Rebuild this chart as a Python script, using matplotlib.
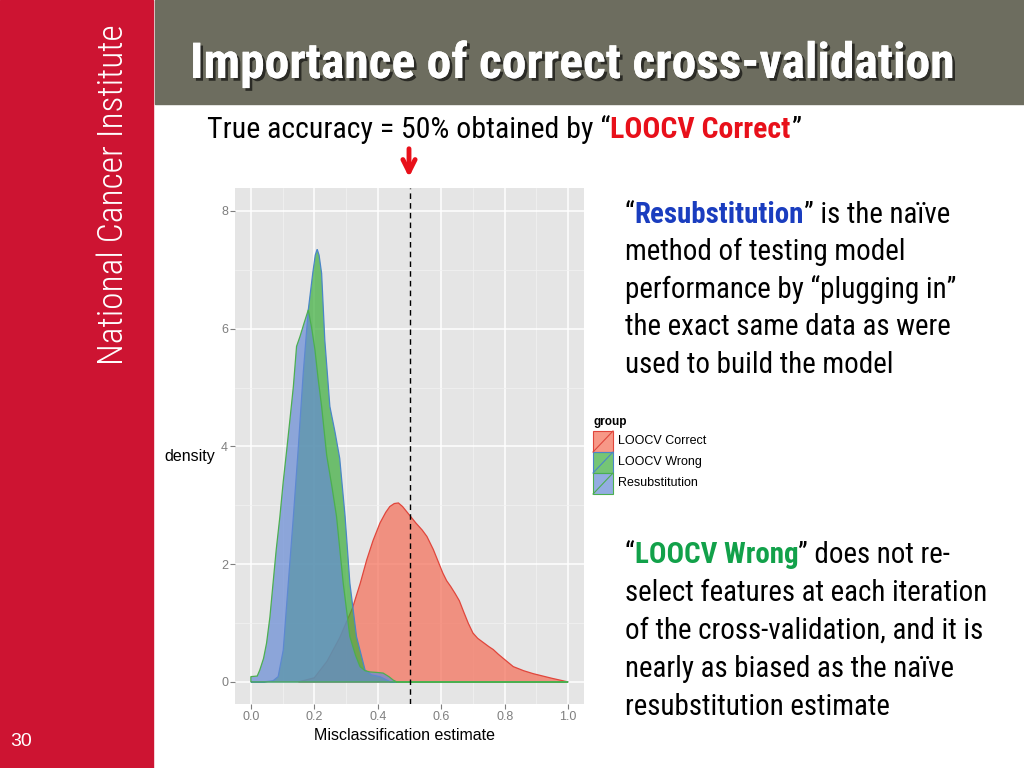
import numpy as np
import matplotlib.pyplot as plt
from matplotlib.patches import Rectangle
from matplotlib.lines import Line2D
from matplotlib.colors import to_rgba
from matplotlib import font_manager
import matplotlib.patheffects as pe

W, H = 1024, 768

# density curves (x = misclassification estimate)
correct_x = [0.15, 0.20, 0.24, 0.28, 0.32, 0.345, 0.365, 0.385, 0.407, 0.425, 0.438, 0.452, 0.465, 0.478,
             0.49, 0.505, 0.52, 0.54, 0.555, 0.575, 0.59, 0.605, 0.617, 0.63, 0.644, 0.657, 0.67, 0.685,
             0.70, 0.715, 0.73, 0.75, 0.764, 0.78, 0.80, 0.827, 0.86, 0.89, 0.92, 0.95, 1.0]
correct_y = [0.0, 0.07, 0.35, 0.75, 1.25, 1.68, 2.07, 2.40, 2.70, 2.88, 2.98, 3.03, 3.04, 2.98,
             2.90, 2.80, 2.70, 2.58, 2.47, 2.25, 2.05, 1.85, 1.72, 1.62, 1.50, 1.38, 1.20, 1.00,
             0.83, 0.74, 0.68, 0.60, 0.55, 0.47, 0.38, 0.26, 0.19, 0.14, 0.10, 0.06, 0.0]

wrong_x = [0.0, 0.04, 0.07, 0.086, 0.102, 0.118, 0.134, 0.149, 0.165, 0.181, 0.195, 0.203, 0.209, 0.215,
           0.223, 0.233, 0.249, 0.265, 0.28, 0.297, 0.312, 0.333, 0.36, 0.38, 0.407, 0.44, 1.0]
wrong_y = [0.0, 0.0, 0.02, 0.09, 0.54, 1.68, 2.81, 3.94, 5.24, 6.32, 6.94, 7.25, 7.35, 7.25,
           6.94, 5.81, 4.68, 4.25, 3.80, 2.81, 1.68, 0.77, 0.20, 0.12, 0.09, 0.0, 0.0]

resub_x = [0.0, 0.0, 0.02, 0.028, 0.04, 0.0495, 0.06, 0.070, 0.08, 0.0915, 0.102, 0.113, 0.124, 0.134,
           0.144, 0.155, 0.168, 0.181, 0.192, 0.202, 0.212, 0.223, 0.239, 0.256, 0.270, 0.291, 0.312,
           0.330, 0.344, 0.36, 0.375, 0.40, 0.417, 0.435, 0.449, 0.46, 1.0]
resub_y = [0.0, 0.09, 0.10, 0.20, 0.40, 0.66, 1.10, 1.68, 2.25, 2.81, 3.40, 3.94, 4.50, 5.02,
           5.70, 5.87, 6.10, 6.32, 6.00, 5.64, 5.15, 4.68, 3.85, 3.30, 2.81, 1.68, 0.77,
           0.45, 0.26, 0.19, 0.17, 0.16, 0.15, 0.09, 0.03, 0.0, 0.0]

groups = ['LOOCV Correct', 'LOOCV Wrong', 'Resubstitution']
fill_cols = ['#F56C55', '#3AAD3A', '#668AD5']
edge_cols = ['#E0463C', '#4A86C8', '#4CAF50']
curves = [(correct_x, correct_y), (wrong_x, wrong_y), (resub_x, resub_y)]

xticks = [0.0, 0.2, 0.4, 0.6, 0.8, 1.0]
yticks = [0, 2, 4, 6, 8]

title = 'Importance of correct cross-validation'
sidebar = 'National Cancer Institute'
subtitle = [('True accuracy = 50% obtained by “', 'black', 'normal'),
            ('LOOCV Correct', '#E8101A', 'bold'),
            ('”', 'black', 'normal')]
block1 = [[('“', 'black', 'normal'), ('Resubstitution', '#1A3DBF', 'bold'), ('” is the naïve', 'black', 'normal')],
          [('method of testing model', 'black', 'normal')],
          [('performance by “plugging in”', 'black', 'normal')],
          [('the exact same data as were', 'black', 'normal')],
          [('used to build the model', 'black', 'normal')]]
block2 = [[('“', 'black', 'normal'), ('LOOCV Wrong', '#12A14A', 'bold'), ('” does not re-', 'black', 'normal')],
          [('select features at each iteration', 'black', 'normal')],
          [('of the cross-validation, and it is', 'black', 'normal')],
          [('nearly as biased as the naïve', 'black', 'normal')],
          [('resubstitution estimate', 'black', 'normal')]]

avail = {f.name for f in font_manager.fontManager.ttflist}
narrow = next((n for n in ['Liberation Sans Narrow', 'Arial Narrow', 'Roboto Condensed',
                           'Open Sans Condensed'] if n in avail), 'Liberation Sans')
NARROW = [narrow, 'DejaVu Sans']
ARIAL = ['Liberation Sans', 'DejaVu Sans']


def fx(x):
    return x / W


def fy(y):
    return 1 - y / H


fig = plt.figure(figsize=(10.24, 7.68), dpi=100)
fig.patch.set_facecolor('white')
renderer = fig.canvas.get_renderer()


def width_of(pieces, size):
    w = 0
    for txt, col, wt in pieces:
        t = fig.text(0, 0, txt, fontsize=size, fontweight=wt, family=NARROW)
        w += t.get_window_extent(renderer).width
        t.remove()
    return w


def fit(pieces, target, base=20):
    return base * target / width_of(pieces, base)


def draw_line(x, y, pieces, size):
    for txt, col, wt in pieces:
        t = fig.text(fx(x), fy(y), txt, color=col, fontsize=size, fontweight=wt, family=NARROW,
                     va='baseline', ha='left')
        x += t.get_window_extent(renderer).width


# slide decoration
fig.add_artist(Rectangle((0, 0), fx(153), 1, transform=fig.transFigure, color='#CD1432', zorder=0))
fig.add_artist(Rectangle((fx(155), fy(104)), 1 - fx(155), 104 / H, transform=fig.transFigure,
                         color='#6D6D5F', zorder=0))
side_size = fit([(sidebar, 'white', 'light')], 340)
fig.text(fx(113), fy(195), sidebar, rotation=90, color='white', fontsize=side_size, fontweight='light',
         family=NARROW, ha='center', va='center')
fig.text(fx(10), fy(742), '30', color='white', fontsize=14, family=ARIAL, va='center')
title_size = fit([(title, 'white', 'bold')], 763)
fig.text(fx(190), fy(78), title, color='white', fontsize=title_size, fontweight='bold', family=NARROW,
         va='baseline', path_effects=[pe.withSimplePatchShadow(offset=(2, -2), shadow_rgbFace='black', alpha=0.6),
                                      pe.Normal()])

draw_line(207, 138, subtitle, fit(subtitle, 593))
body_size = fit(block1[3], 326)
for i, ln in enumerate(block1):
    draw_line(625, 223 + i * 37.5, ln, body_size)
for i, ln in enumerate(block2):
    draw_line(625, 563 + i * 38, ln, body_size)

# density plot
ax = fig.add_axes([fx(235), fy(704), fx(584) - fx(235), (704 - 188) / H])
ax.set_facecolor('#E5E5E5')
for s in ax.spines.values():
    s.set_visible(False)
ax.set_xlim(-0.05, 1.05)
ax.set_ylim(-0.375, 8.39)
ax.set_xticks(xticks)
ax.set_xticklabels(['%.1f' % v for v in xticks])
ax.set_yticks(yticks)
ax.set_xticks([0.1, 0.3, 0.5, 0.7, 0.9], minor=True)
ax.set_yticks([1, 3, 5, 7], minor=True)
ax.grid(which='major', color='white', lw=1.1)
ax.grid(which='minor', color='#F2F2F2', lw=0.5)
ax.set_axisbelow(True)
ax.tick_params(which='minor', length=0)
ax.tick_params(which='major', length=3.5, width=0.8, color='#7F7F7F', labelcolor='#7F7F7F',
               labelsize=9, pad=1.5)
for lab in ax.get_xticklabels() + ax.get_yticklabels():
    lab.set_family(ARIAL)

for (xs, ys), fc, ec in zip(curves, fill_cols, edge_cols):
    ax.fill(xs, ys, facecolor=to_rgba(fc, 0.7), edgecolor=ec, lw=0.9)
ax.axvline(0.5, color='black', ls=(0, (4, 3)), lw=1)

# red arrow pointing at the 0.5 line
ax.annotate('', xy=(fx(409), fy(180)), xytext=(fx(409), fy(146)), xycoords='figure fraction',
            textcoords='figure fraction', annotation_clip=False,
            arrowprops=dict(arrowstyle='->', color='#E8101A', lw=3.5, mutation_scale=22))

fig.text(fx(215), fy(457), 'density', fontsize=11.5, family=ARIAL, ha='right', va='center')
fig.text(fx(404), fy(735), 'Misclassification estimate', fontsize=11.5, family=ARIAL, ha='center', va='center')

# legend
fig.text(fx(593), fy(422), 'group', fontsize=8.5, fontweight='bold', family=ARIAL, va='center')
for i, (g, fc, ec) in enumerate(zip(groups, fill_cols, edge_cols)):
    top = 431 + i * 21
    fig.add_artist(Rectangle((fx(593), fy(top + 21)), 20 / W, 21 / H, transform=fig.transFigure,
                             facecolor=to_rgba(fc, 0.7), edgecolor=ec, lw=0.8))
    fig.add_artist(Line2D([fx(593), fx(613)], [fy(top + 21), fy(top)], transform=fig.transFigure,
                          color=ec, lw=0.8))
    fig.text(fx(618), fy(top + 10.5), g, fontsize=9, family=ARIAL, va='center')

fig.savefig('out.png', dpi=100)
